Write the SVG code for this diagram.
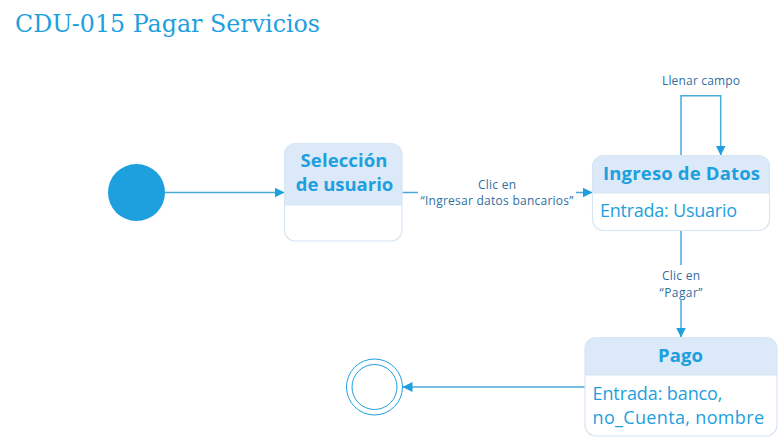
<svg xmlns="http://www.w3.org/2000/svg" width="778" height="439" viewBox="0 0 778 439">
<defs>
<marker id="arr" viewBox="0 0 10 10" refX="10" refY="5" markerWidth="10" markerHeight="10" markerUnits="userSpaceOnUse" orient="auto">
<path d="M0,0 L10,5 L0,10 Z" fill="#1e9fde"/>
</marker>
<style>
.title{font-family:"DejaVu Serif","Liberation Serif",serif;font-size:24px;fill:#1e9fde}
.box{fill:none;stroke:#d8e6f4;stroke-width:1.2}
.hdr{fill:#dbe9f8}
.sep{stroke:#d8e6f4;stroke-width:1}
.h{font-family:"Open Sans","Noto Sans",sans-serif;font-weight:bold;font-size:18.5px;fill:#1e9fde;text-anchor:middle}
.b{font-family:"Open Sans","Noto Sans",sans-serif;font-size:18px;fill:#1e9fde}
.lbl{font-family:"Open Sans","Noto Sans",sans-serif;font-size:12px;fill:#2f6f9f;text-anchor:middle}
.line{fill:none;stroke:#4aaadb;stroke-width:1.5}
</style>
<clipPath id="c1"><rect x="284.5" y="143.5" width="117.5" height="97.5" rx="11"/></clipPath>
<clipPath id="c2"><rect x="592.5" y="155.5" width="177" height="75" rx="11"/></clipPath>
<clipPath id="c3"><rect x="585" y="337.5" width="192" height="98.5" rx="11"/></clipPath>
</defs>
<text class="title" x="15" y="32" textLength="305" lengthAdjust="spacingAndGlyphs">CDU-015 Pagar Servicios</text>

<g id="connectors">
<path class="line" d="M165,192.5 L284.5,192.5" marker-end="url(#arr)"/>
<path class="line" d="M402,192.5 L592.5,192.5" marker-end="url(#arr)"/>
<rect x="418" y="176" width="158" height="33" fill="#ffffff"/>
<text class="lbl" x="497" y="188.5" textLength="38">Clic en</text>
<text class="lbl" x="497" y="205" textLength="153">“Ingresar datos bancarios”</text>
<path class="line" d="M681,155.5 L681,95.7 L720.7,95.7 L720.7,155.5" marker-end="url(#arr)"/>
<text class="lbl" x="701" y="85" textLength="78">Llenar campo</text>
<path class="line" d="M681,230.5 L681,337.5" marker-end="url(#arr)"/>
<rect x="655" y="265" width="52" height="35" fill="#ffffff"/>
<text class="lbl" x="681" y="280" textLength="38">Clic en</text>
<text class="lbl" x="681" y="296.5" textLength="43">“Pagar”</text>
<path class="line" d="M585,387 L402.5,387" marker-end="url(#arr)"/>
</g>

<g id="start">
<circle cx="136.5" cy="192.5" r="28.5" fill="#1e9fde"/>
</g>

<g id="seleccion">
<g clip-path="url(#c1)">
<rect x="284.5" y="143.5" width="117.5" height="97.5" fill="#ffffff"/>
<rect class="hdr" x="284.5" y="143.5" width="117.5" height="61.5"/>
</g>
<line class="sep" x1="284.5" y1="205" x2="402" y2="205"/>
<rect class="box" x="284.5" y="143.5" width="117.5" height="97.5" rx="11"/>
<text class="h" x="344" y="167" textLength="87">Selección</text>
<text class="h" x="344.5" y="191" textLength="97.5">de usuario</text>
</g>

<g id="ingreso">
<g clip-path="url(#c2)">
<rect x="592.5" y="155.5" width="177" height="75" fill="#ffffff"/>
<rect class="hdr" x="592.5" y="155.5" width="177" height="37.5"/>
</g>
<line class="sep" x1="592.5" y1="193" x2="769.5" y2="193"/>
<rect class="box" x="592.5" y="155.5" width="177" height="75" rx="11"/>
<text class="h" x="681.5" y="180" textLength="157">Ingreso de Datos</text>
<text class="b" x="600" y="217" textLength="137">Entrada: Usuario</text>
</g>

<g id="pago">
<g clip-path="url(#c3)">
<rect x="585" y="337.5" width="192" height="98.5" fill="#ffffff"/>
<rect class="hdr" x="585" y="337.5" width="192" height="37.5"/>
</g>
<line class="sep" x1="585" y1="375" x2="777" y2="375"/>
<rect class="box" x="585" y="337.5" width="192" height="98.5" rx="11"/>
<text class="h" x="680.5" y="362" textLength="45">Pago</text>
<text class="b" x="592.5" y="400" textLength="130">Entrada: banco,</text>
<text class="b" x="592.5" y="424" textLength="171.5">no_Cuenta, nombre</text>
</g>

<g id="end">
<circle cx="374.5" cy="387" r="28" fill="#ffffff" stroke="#1e9fde" stroke-width="1"/>
<circle cx="374.5" cy="387" r="22.5" fill="none" stroke="#1e9fde" stroke-width="1"/>
</g>
</svg>
